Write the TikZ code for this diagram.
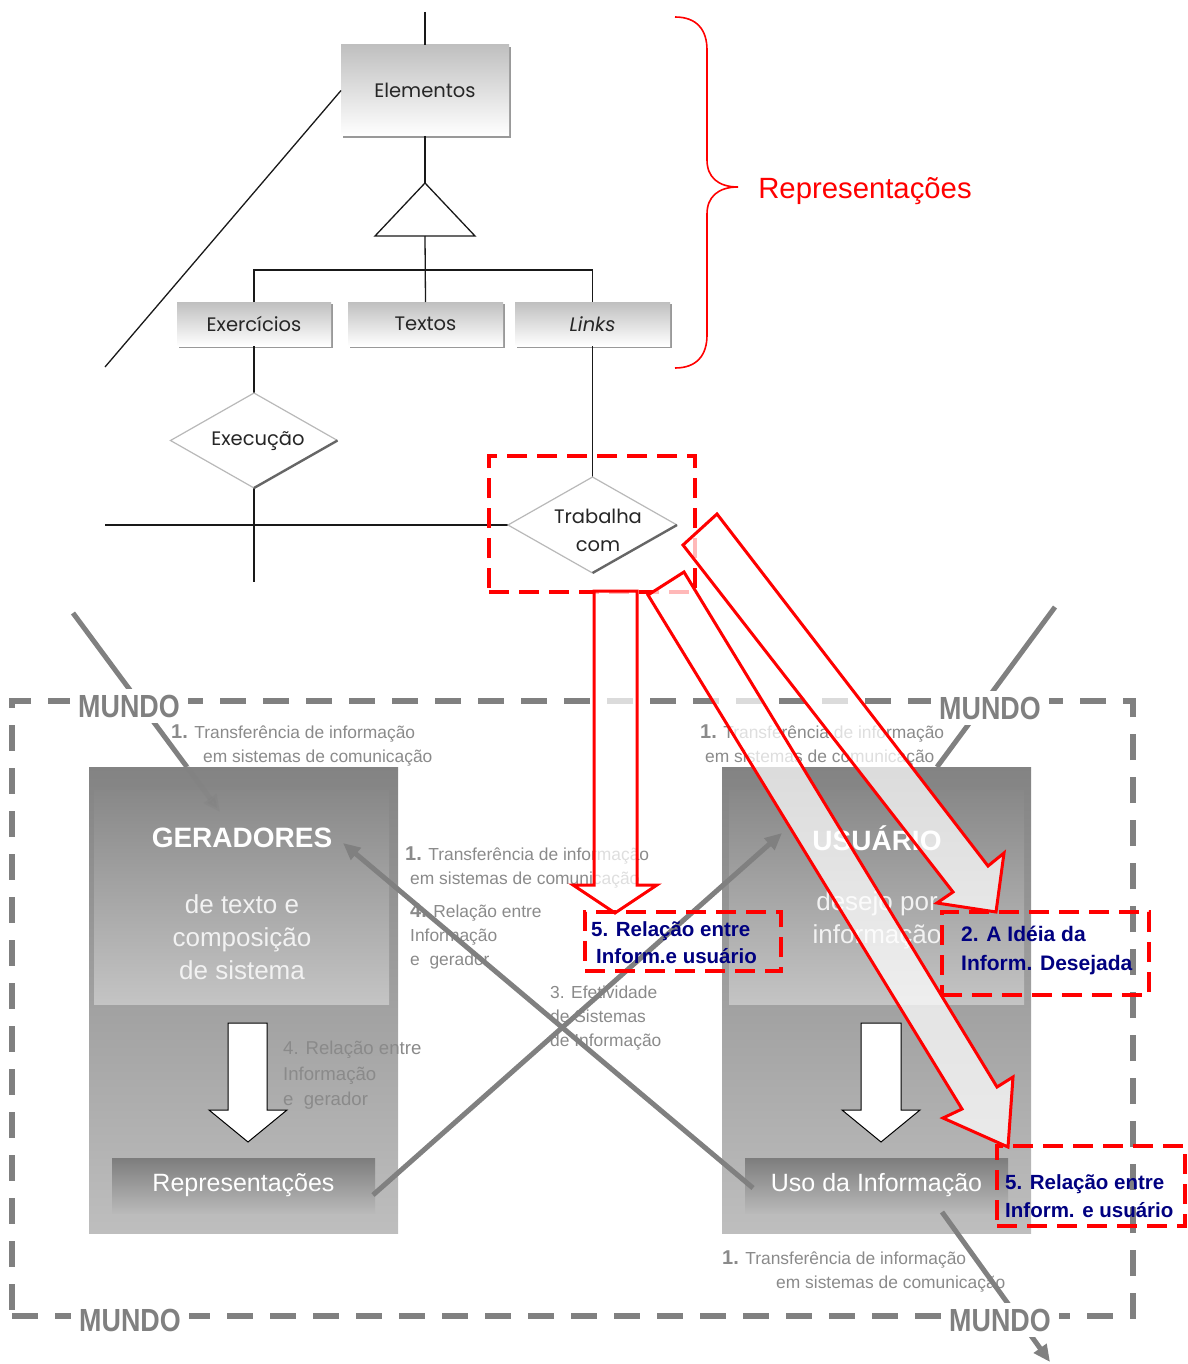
\documentclass[tikz,border=0pt]{standalone}
\usepackage{fontspec}
\setmainfont{Liberation Sans}
\newfontfamily\gothicfont{Poppins}
\usetikzlibrary{shapes.geometric,arrows.meta,shadows}
\newcommand\setfs[2]{\fontsize{#1}{#2}\selectfont}
\definecolor{labgray}{RGB}{138,138,138}
\definecolor{navytxt}{RGB}{0,0,128}
\definecolor{linegray}{RGB}{128,128,128}
\definecolor{boxtop}{RGB}{131,131,131}
\definecolor{boxbot}{RGB}{190,190,190}
\definecolor{pantop}{RGB}{136,136,136}
\definecolor{panbot}{RGB}{196,196,196}
\definecolor{bartop}{RGB}{125,125,125}
\definecolor{barbot}{RGB}{185,185,185}
\definecolor{softwhite}{RGB}{242,242,242}

\begin{document}
\begin{tikzpicture}[x=1pt,y=-1pt,
  blk/.style={draw=black!90, line width=1.3pt},
  gbox/.style={rectangle, inner sep=0pt, outer sep=0pt, top color=gray!50, bottom color=white,
    drop shadow={shadow xshift=1.6pt, shadow yshift=-1.6pt, opacity=1, fill=gray!80},
    font=\gothicfont\setfs{19.5}{23}, text=black!85},
  diam/.style={diamond, inner sep=0pt, outer sep=0pt, fill=white},
  diamtext/.style={font=\gothicfont\setfs{19.5}{28}, align=center, text=black!85, inner sep=0pt},
  gline/.style={draw=linegray, line width=5pt},
  tipped/.style={-{Triangle[length=17pt,width=15pt]}},
  outerbox/.style={rectangle, inner sep=0pt, outer sep=0pt, top color=boxtop, bottom color=boxbot},
  panel/.style={rectangle, inner sep=0pt, outer sep=0pt, top color=pantop, bottom color=panbot},
  bar/.style={rectangle, inner sep=0pt, outer sep=0pt, top color=bartop, bottom color=barbot,
    text=white, font=\setfs{25}{25}},
  headw/.style={text=white, font=\bfseries\setfs{28}{28}},
  subw/.style={text=softwhite, font=\setfs{26}{33}, align=center},
  lbl/.style={text=labgray, font=\setfs{17.4}{17.4}, inner sep=0pt, anchor=base west},
  mlab/.style={fill=white, text=linegray, font=\bfseries\setfs{32}{32}, inner xsep=8pt, inner ysep=6pt},
  mundo/.style={draw=linegray, line width=6pt, dash pattern=on 26pt off 17pt, inner sep=0pt, outer sep=0pt},
  redarrow/.style={draw=red, line width=3pt, fill=white, fill opacity=0.72, line join=miter},
  reddash/.style={draw=red, line width=4pt, dash pattern=on 20pt off 10pt, inner sep=0pt, outer sep=0pt},
  navy/.style={text=navytxt, font=\bfseries\setfs{20.5}{20.5}, inner sep=0pt, anchor=base west}
]
\useasboundingbox (0,0) rectangle (1187,1364);

% ---------- upper model ----------
\coordinate (top) at (425,12);
\coordinate (dl) at (105,367);
\coordinate (hl) at (105,525);
\coordinate (ev) at (254,582);
\coordinate (triT) at (425,183);
\coordinate (triL) at (375,236);
\coordinate (triR) at (475,236);
\coordinate (triB) at (425,236);

\node[gbox, minimum width=168, minimum height=91] (elem) at (425,90.5) {Elementos};
\node[gbox, minimum width=154, minimum height=44] (exer) at (254,324) {Exercícios};
\node[gbox, minimum width=155, minimum height=44] (text) at (425.5,324) {Textos};
\node[gbox, minimum width=155, minimum height=44] (links) at (592.5,324) {\itshape Links};

\node[diam, minimum width=167, minimum height=95] (exec) at (254,440.5) {};
\node[diamtext] (exectxt) at (258,441) {Execução};
\node[diam, minimum width=169, minimum height=96] (trab) at (592.5,525) {};
\node[diamtext] (trabtxt) at (598,530) {Trabalha\\com};

\draw[blk] (top) -- (elem.north);
\draw[blk] (elem.south) -- (triT);
\draw[blk] (triT) -- (triL) -- (triR) -- cycle;
\draw[blk] (triB) -- (text.north);
\draw[blk] (exer.north) -- ++(0,-32) -| (links.north);
\draw[blk] (elem.west) -- (dl);
\draw[blk] (exer.south) -- (exec.north);
\draw[blk] (exec.south) -- (ev);
\draw[blk] (links.south) -- (trab.north);
\draw[blk] (hl) -- (trab.west);

\foreach \d in {exec,trab}{
  \draw[gray!55, line width=1.2pt] (\d.south) -- (\d.west) -- (\d.north) -- (\d.east);
  \draw[black!60, line width=2.4pt] (\d.east) -- (\d.south);
}

\node[reddash, minimum width=206, minimum height=136] (trabsel) at (592,524) {};

% brace grouping the representations
\draw[red, line width=1.6pt] (675,17) .. controls (697,17) and (707,30) .. (707,50)
  -- (707,160) .. controls (707,177) and (718,187) .. (738,187)
  .. controls (718,187) and (707,197) .. (707,214)
  -- (707,335) .. controls (707,355) and (697,368) .. (675,368);
\node[text=red, font=\setfs{29.3}{29.3}] (reptitle) at (865,191) {Representações};

% ---------- lower model ----------
\coordinate (gl1a) at (73,613);
\coordinate (gl1b) at (187,767);
\coordinate (gl1c) at (220,812);
\coordinate (gl2a) at (1055,607);
\coordinate (gl2b) at (937,767);
\draw[gline] (gl1a) -- (gl1b);
\draw[gline] (gl2a) -- (gl2b);

\node[mundo, minimum width=1121, minimum height=615] (mundo) at (572.5,1008.5) {};

\node[outerbox, minimum width=309, minimum height=466] (ger) at (243.5,1000) {};
\node[outerbox, minimum width=309, minimum height=466] (usu) at (876.5,1000) {};
\node[panel, minimum width=295, minimum height=214] (gerin) at (241.5,897) {};
\node[panel, minimum width=295, minimum height=214] (usuin) at (876.5,897) {};

\draw[gline, tipped, opacity=0.3] (gl1b) -- (gl1c);

\node[headw] (gertitle) at (242,838) {GERADORES};
\node[subw] (gersub) at (242,937) {de texto e\\composição\\de sistema};
\node[headw] (usutitle) at (877,838) {USUÁRIO};
\node[subw] (usussub) at (877,920) {desejo por\\informação};

% white block arrows inside the two columns
\draw[fill=white, line width=1pt] (228,1023) -- (267,1023) -- (267,1110) -- (287,1110)
  -- (248,1142) -- (209,1110) -- (228,1110) -- cycle;
\draw[fill=white, line width=1pt] (861,1023) -- (901,1023) -- (901,1110) -- (920,1110)
  -- (881,1142) -- (842,1110) -- (861,1110) -- cycle;

\node[bar, minimum width=263, minimum height=55] (reprbar) at (243.5,1185.5) {Representações};
\node[bar, minimum width=263, minimum height=55] (usobar) at (876.5,1185.5) {Uso da Informação};

% grey captions
\node[lbl] (l1a) at (171,738) {{\bfseries\setfs{20}{20}1.} Transferência de informação};
\node[lbl] (l1b) at (203,762) {em sistemas de comunicação};
\node[lbl] (r1a) at (700,738) {{\bfseries\setfs{20}{20}1.} Transferência de informação};
\node[lbl] (r1b) at (705,762) {em sistemas de comunicação};
\node[lbl] (m1a) at (405,860) {{\bfseries\setfs{20}{20}1.} Transferência de informação};
\node[lbl] (m1b) at (410,884) {em sistemas de comunicação};
\node[lbl] (m4a) at (410,917) {{\bfseries\setfs{20}{20}4.} Relação entre};
\node[lbl] (m4b) at (410,941) {Informação};
\node[lbl] (m4c) at (410,965) {e\ \ gerador};
\node[lbl, font=\setfs{18.6}{18.6}] (g4a) at (283,1054) {4. Relação entre};
\node[lbl, font=\setfs{18.6}{18.6}] (g4b) at (283,1080) {Informação};
\node[lbl, font=\setfs{18.6}{18.6}] (g4c) at (283,1105) {e\ \ gerador};
\node[lbl] (e3a) at (550,998) {3. Efetividade};
\node[lbl] (e3b) at (550,1022) {de Sistemas};
\node[lbl] (e3c) at (550,1046) {de Informação};
\node[lbl] (b1a) at (722,1264) {{\bfseries\setfs{20}{20}1.} Transferência de informação};
\node[lbl] (b1b) at (776,1288) {em sistemas de comunicação};

% crossing flows between the columns
\coordinate (xa) at (373,1195);
\coordinate (xb) at (782,833);
\coordinate (xc) at (753,1188);
\coordinate (xd) at (343,843);
\coordinate (bl1) at (942,1212);
\coordinate (bl2) at (1050,1362);
\draw[gline, tipped] (xa) -- (xb);
\draw[gline, tipped] (xc) -- (xd);
\draw[gline, tipped] (bl1) -- (bl2);

\node[mlab] (mtl) at (129,706) {\scalebox{0.84}[1]{MUNDO}};
\node[mlab] (mtr) at (990,708) {\scalebox{0.84}[1]{MUNDO}};
\node[mlab] (mbl) at (130,1320) {\scalebox{0.84}[1]{MUNDO}};
\node[mlab] (mbr) at (1000,1320) {\scalebox{0.84}[1]{MUNDO}};

% red block arrows leaving "Trabalha com"
\draw[redarrow] (594,591) -- (637,591) -- (637,885) -- (657,885) -- (615,913)
  -- (573,885) -- (594,885) -- cycle;
\draw[redarrow] (648,595) -- (684,572) -- (997,1087) -- (1013,1077) -- (1008,1147)
  -- (943,1118) -- (962,1109) -- cycle;
\draw[redarrow] (683,545) -- (717,514) -- (988,866) -- (1004,853) -- (996,912)
  -- (937,903) -- (953,892) -- cycle;

% highlighted relations
\node[reddash, minimum width=196, minimum height=59] (n1) at (683,941.5) {};
\node[navy] (n1a) at (591,936) {5. Relação entre};
\node[navy] (n1b) at (596,963) {Inform.e usuário};
\node[reddash, minimum width=207, minimum height=83] (n2) at (1045.5,953.5) {};
\node[navy, font=\bfseries\setfs{21}{21}] (n2a) at (961,941) {2. A Idéia da};
\node[navy, font=\bfseries\setfs{21}{21}] (n2b) at (961,970) {Inform. Desejada};
\node[reddash, minimum width=188, minimum height=80] (n3) at (1091,1186) {};
\node[navy] (n3a) at (1005,1189) {5. Relação entre};
\node[navy] (n3b) at (1005,1217) {Inform. e usuário};
\end{tikzpicture}
\end{document}
